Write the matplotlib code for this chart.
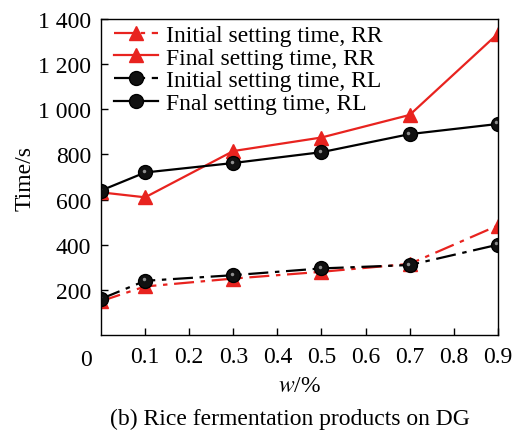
import numpy as np
import matplotlib.pyplot as plt
from matplotlib.transforms import offset_copy

plt.rcParams['font.family'] = ['Liberation Serif', 'DejaVu Serif']
plt.rcParams['mathtext.fontset'] = 'stix'

# data
w = [0.0, 0.1, 0.3, 0.5, 0.7, 0.9]
init_rr = [150, 215, 250, 280, 315, 485]
final_rr = [632, 610, 815, 875, 975, 1335]
init_rl = [160, 240, 265, 295, 310, 400]
final_rl = [640, 720, 762, 810, 890, 935]
xticks = [0.1, 0.2, 0.3, 0.4, 0.5, 0.6, 0.7, 0.8, 0.9]
yticks = [200, 400, 600, 800, 1000, 1200, 1400]
ylabels = ['200', '400', '600', '800', '1 000', '1 200', '1 400']

fs = 17
red = '#e8231f'
fig = plt.figure(figsize=(5.17, 4.35), dpi=100)
ax = fig.add_axes([0.1954, 0.2276, 0.7676, 0.7264])

dd = (9, 3, 2, 3)
ax.plot(w, init_rr, color=red, lw=1.6, dashes=dd, marker='^', ms=10,
        label='Initial setting time, RR')
ax.plot(w, final_rr, color=red, lw=1.6, marker='^', ms=10,
        label='Final setting time, RR')
ax.plot(w, init_rl, color='black', lw=1.6, dashes=dd, marker='o', ms=10,
        mfc='#111111', mec='black', label='Initial setting time, RL')
ax.plot(w, final_rl, color='black', lw=1.6, marker='o', ms=10,
        mfc='#111111', mec='black', label='Fnal setting time, RL')
# sphere highlights
hl = offset_copy(ax.transData, fig=fig, x=-1.5, y=1.5, units='dots')
ax.plot(w, init_rl, ls='none', marker='o', ms=2.5, mfc='#909090', mec='none', transform=hl)
ax.plot(w, final_rl, ls='none', marker='o', ms=2.5, mfc='#909090', mec='none', transform=hl)

ax.set_xlim(0, 0.9)
ax.set_ylim(0, 1400)
ax.set_xticks(xticks)
ax.set_xticklabels([str(t) for t in xticks])
ax.set_yticks(yticks)
ax.set_yticklabels(ylabels)
ax.tick_params(direction='in', labelsize=fs, length=5, width=1, pad=8)
ax.tick_params(axis='y', pad=7)
for s in ax.spines.values():
    s.set_linewidth(1)
ax.text(-0.035, -62, '0', fontsize=fs, ha='center', va='top')

ax.set_ylabel('Time/s', fontsize=fs)
ax.yaxis.set_label_coords(-0.165, 0.5)
ax.set_xlabel(r'$w$/%', fontsize=fs, labelpad=6)
fig.text(0.56, 0.035, '(b) Rice fermentation products on DG', fontsize=fs,
         ha='center', va='center')

ax.legend(loc='upper left', bbox_to_anchor=(-0.01, 1.035), frameon=False,
          fontsize=fs, handlelength=1.9, handletextpad=0.3,
          labelspacing=0.05, borderaxespad=0.3)

fig.savefig('out.png', dpi=100)
